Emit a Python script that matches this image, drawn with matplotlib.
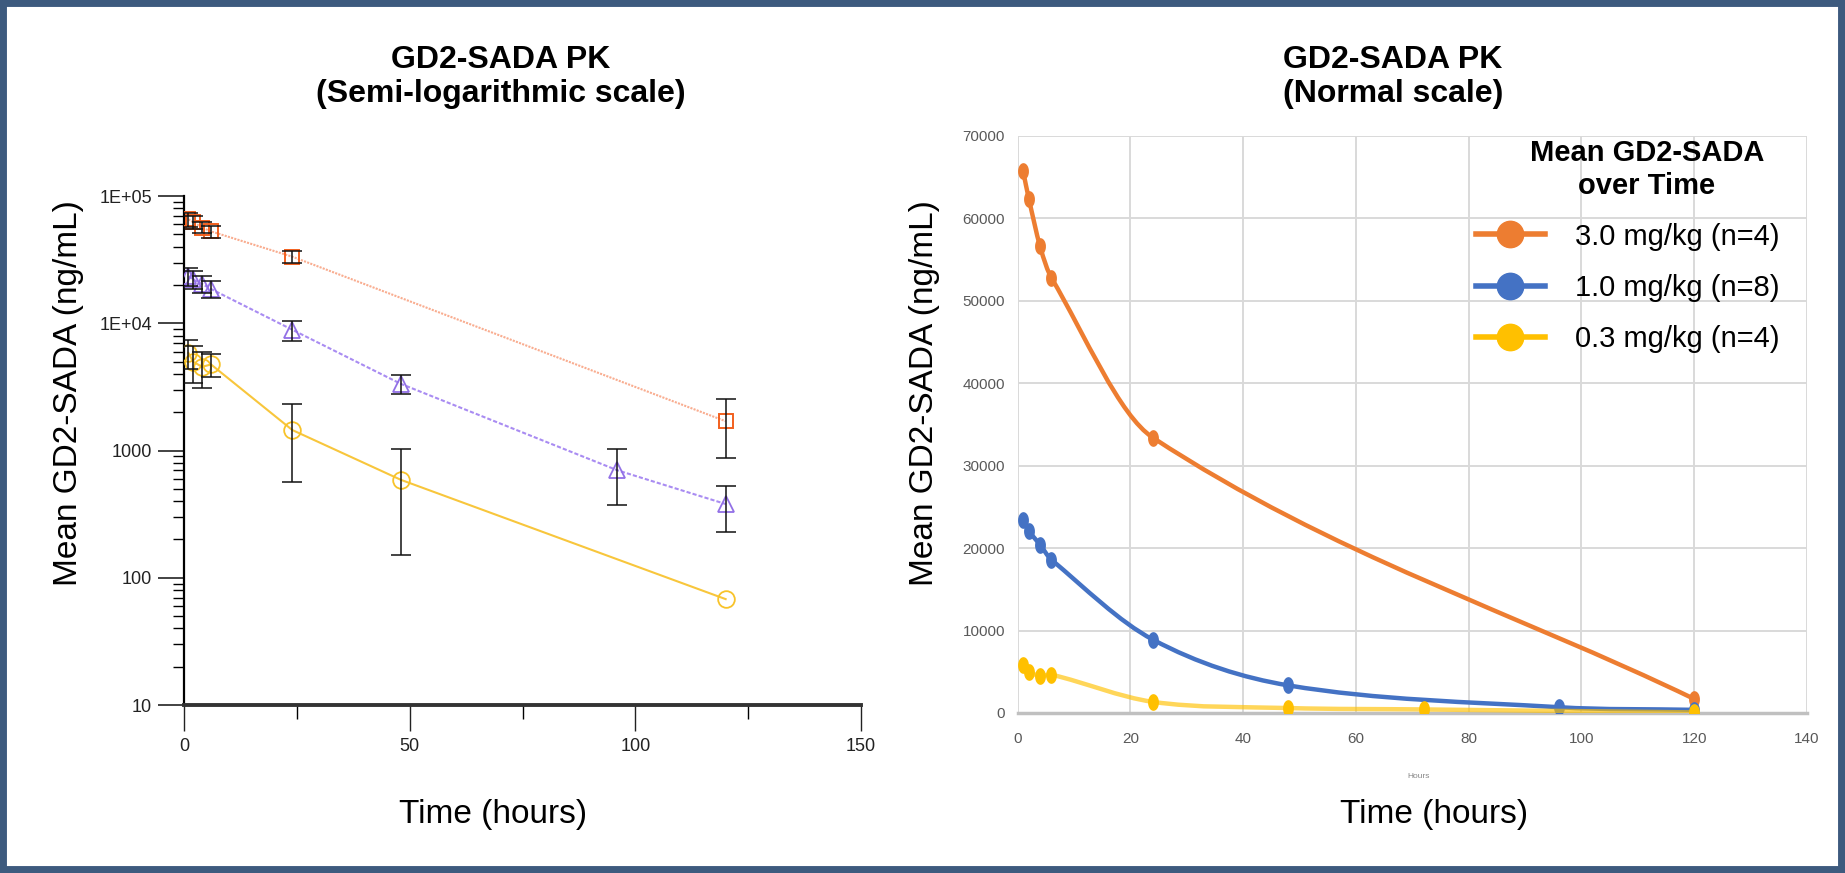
import numpy as np
import matplotlib
matplotlib.use('Agg')
import matplotlib.pyplot as plt
from matplotlib.path import Path
from matplotlib.patches import PathPatch, Rectangle
from matplotlib.lines import Line2D
from matplotlib.ticker import FixedLocator, LogLocator, NullFormatter

plt.rcParams['font.family'] = ['Liberation Sans', 'DejaVu Sans']

# --- data (mean and SD, ng/mL) ---
t_hi = [1, 2, 4, 6, 24, 120]
c_hi = [65700, 62400, 56600, 52800, 33400, 1700]
sd_hi = [8500, 7500, 5500, 5700, 3800, 830]

t_mid = [1, 2, 4, 6, 24, 48, 96, 120]
c_mid = [23400, 22100, 20400, 18600, 8900, 3350, 700, 380]
sd_mid = [3800, 3500, 3100, 2800, 1600, 560, 330, 150]

t_low = [1, 2, 4, 6, 24, 48, 120]
c_low = [5850, 5000, 4550, 4750, 1450, 590, 68]
sd_low = [1500, 1600, 1450, 960, 880, 440, np.nan]

# Excel chart of the low dose has an extra 72 h point
t_low_xl = [1, 2, 4, 6, 24, 48, 72, 120]
c_low_xl = [5850, 5030, 4490, 4650, 1350, 600, 430, 70]

labels = ['3.0 mg/kg (n=4)', '1.0 mg/kg (n=8)', '0.3 mg/kg (n=4)']
log_ticks = [10, 100, 1000, 1e4, 1e5]
log_ticklabels = ['10', '100', '1000', '1E+04', '1E+05']


def smooth_path(x, y):
    # excel-like smoothed line: cubic hermite segments as bezier curves
    x = np.asarray(x, float)
    y = np.asarray(y, float)
    m = np.empty(len(x))
    m[0] = (y[1] - y[0]) / (x[1] - x[0])
    m[-1] = (y[-1] - y[-2]) / (x[-1] - x[-2])
    m[1:-1] = (y[2:] - y[:-2]) / (x[2:] - x[:-2])
    verts = [(x[0], y[0])]
    codes = [Path.MOVETO]
    for i in range(len(x) - 1):
        h = x[i + 1] - x[i]
        verts += [(x[i] + h / 3, y[i] + m[i] * h / 3),
                  (x[i + 1] - h / 3, y[i + 1] - m[i + 1] * h / 3),
                  (x[i + 1], y[i + 1])]
        codes += [Path.CURVE4] * 3
    return Path(verts, codes)


fig = plt.figure(figsize=(18.45, 8.73), dpi=100)
fig.patches.append(Rectangle((0, 0), 1, 1, transform=fig.transFigure, fill=False,
                             edgecolor='#3d5a7e', linewidth=10, zorder=10))

# ---------------- left: semi-log ----------------
ax1 = fig.add_axes([0.0997, 0.1924, 0.367, 0.583])
ax1.plot(t_hi, c_hi, color='#f9ad90', linestyle=(0, (1, 0.6)), linewidth=1.5, zorder=2)
ax1.plot(t_mid, c_mid, color='#a98cf2', linestyle=(0, (2, 1)), linewidth=1.5, zorder=2)
ax1.plot(t_low, c_low, color='#f8c63c', linestyle='-', linewidth=1.5, zorder=2)

ax1.plot(t_hi, c_hi, linestyle='none', marker='s', markersize=10, markerfacecolor='none',
         markeredgecolor='#f2601e', markeredgewidth=1.4, zorder=3)
ax1.plot(t_mid, c_mid, linestyle='none', marker='^', markersize=11, markerfacecolor='none',
         markeredgecolor='#9270e6', markeredgewidth=1.3, zorder=3)
ax1.plot(t_low, c_low, linestyle='none', marker='o', markersize=12, markerfacecolor='none',
         markeredgecolor='#f8c32a', markeredgewidth=1.3, zorder=3)

for t, c, sd in [(t_hi, c_hi, sd_hi), (t_mid, c_mid, sd_mid), (t_low, c_low, sd_low)]:
    t = np.asarray(t, float)
    c = np.asarray(c, float)
    sd = np.asarray(sd, float)
    ok = np.isfinite(sd)
    ax1.errorbar(t[ok], c[ok], yerr=sd[ok], fmt='none', ecolor='#111111', elinewidth=1.1,
                 capsize=7, capthick=1.1, zorder=4)

ax1.set_yscale('log')
ax1.set_ylim(10, 1e5)
ax1.set_xlim(0, 150)
ax1.yaxis.set_major_locator(FixedLocator(log_ticks))
ax1.set_yticklabels(log_ticklabels)
ax1.yaxis.set_minor_locator(LogLocator(base=10, subs=np.arange(2, 10)))
ax1.yaxis.set_minor_formatter(NullFormatter())
ax1.set_xticks([0, 50, 100, 150])
ax1.set_xticks([25, 75, 125], minor=True)
for s in ['top', 'right']:
    ax1.spines[s].set_visible(False)
ax1.spines['left'].set_linewidth(1.6)
ax1.spines['bottom'].set_linewidth(2.8)
ax1.spines['bottom'].set_color('#333333')
ax1.tick_params(axis='y', which='major', direction='out', length=19, width=1.2, labelsize=13, pad=4, colors='#222222')
ax1.tick_params(axis='y', which='minor', direction='out', length=8, width=1.0)
ax1.tick_params(axis='x', which='major', direction='out', length=19, width=1.0, labelsize=13, pad=5, colors='#222222')
ax1.tick_params(axis='x', which='minor', direction='out', length=10, width=1.0)

# ---------------- right: linear ----------------
ax2 = fig.add_axes([0.5515, 0.1833, 0.4279, 0.661])
ax2.set_xlim(0, 140)
ax2.set_ylim(0, 70000)
ax2.set_xticks(np.arange(0, 141, 20))
ax2.set_yticks(np.arange(0, 70001, 10000))
ax2.grid(True, color='#d9d9d9', linewidth=1.4, zorder=0)
ax2.set_axisbelow(True)
for s in ['top', 'right', 'left']:
    ax2.spines[s].set_visible(False)
ax2.spines['bottom'].set_color('#c0c0c0')
ax2.spines['bottom'].set_linewidth(2.5)
ax2.tick_params(length=0, labelsize=11, colors='#595959')
ax2.tick_params(axis='y', pad=9)
ax2.tick_params(axis='x', pad=14)

theta = np.linspace(0, 2 * np.pi, 40)
ellipse = list(zip(0.62 * np.cos(theta), np.sin(theta)))

series = [(t_hi, c_hi, '#ed7d31', 1.0), (t_mid, c_mid, '#4472c4', 1.0),
          (t_low_xl, c_low_xl, '#ffc000', 0.65)]
for i, (t, c, col, a) in enumerate(series):
    ax2.add_patch(PathPatch(smooth_path(t, c), facecolor='none', edgecolor=col, alpha=a,
                            linewidth=3.2, capstyle='round', zorder=3 + i))
    ax2.plot(t, c, linestyle='none', marker=ellipse, markersize=11, color=col, zorder=4 + i)

handles = [Line2D([], [], color=col, linewidth=4, marker='o', markersize=19)
           for _, _, col, _ in series]
ax2.legend(handles, labels, loc='upper left', bbox_to_anchor=(0.800, 0.745),
           bbox_transform=fig.transFigure, frameon=False, borderpad=0, borderaxespad=0,
           fontsize=21, handlelength=2.35, handletextpad=1.05, labelspacing=0.8)
fig.text(0.8927, 0.806, 'Mean GD2-SADA\nover Time', ha='center', va='center',
         fontsize=21, fontweight='bold', linespacing=1.22)

fig.text(0.7686, 0.11, 'Hours', fontsize=6, color='#888888', ha='center', va='center')

# ---------------- titles and axis labels ----------------
fig.text(0.2715, 0.912, 'GD2-SADA PK\n(Semi-logarithmic scale)', ha='center', va='center',
         fontsize=23, fontweight='bold', linespacing=1.18)
fig.text(0.755, 0.912, 'GD2-SADA PK\n(Normal scale)', ha='center', va='center',
         fontsize=23, fontweight='bold', linespacing=1.18)
fig.text(0.037, 0.55, 'Mean GD2-SADA (ng/mL)', rotation=90, ha='center', va='center', fontsize=24)
fig.text(0.501, 0.55, 'Mean GD2-SADA (ng/mL)', rotation=90, ha='center', va='center', fontsize=24)
fig.text(0.267, 0.0665, 'Time (hours)', ha='center', va='center', fontsize=24)
fig.text(0.777, 0.0665, 'Time (hours)', ha='center', va='center', fontsize=24)

fig.savefig('out.png', dpi=100)
plt.close()
